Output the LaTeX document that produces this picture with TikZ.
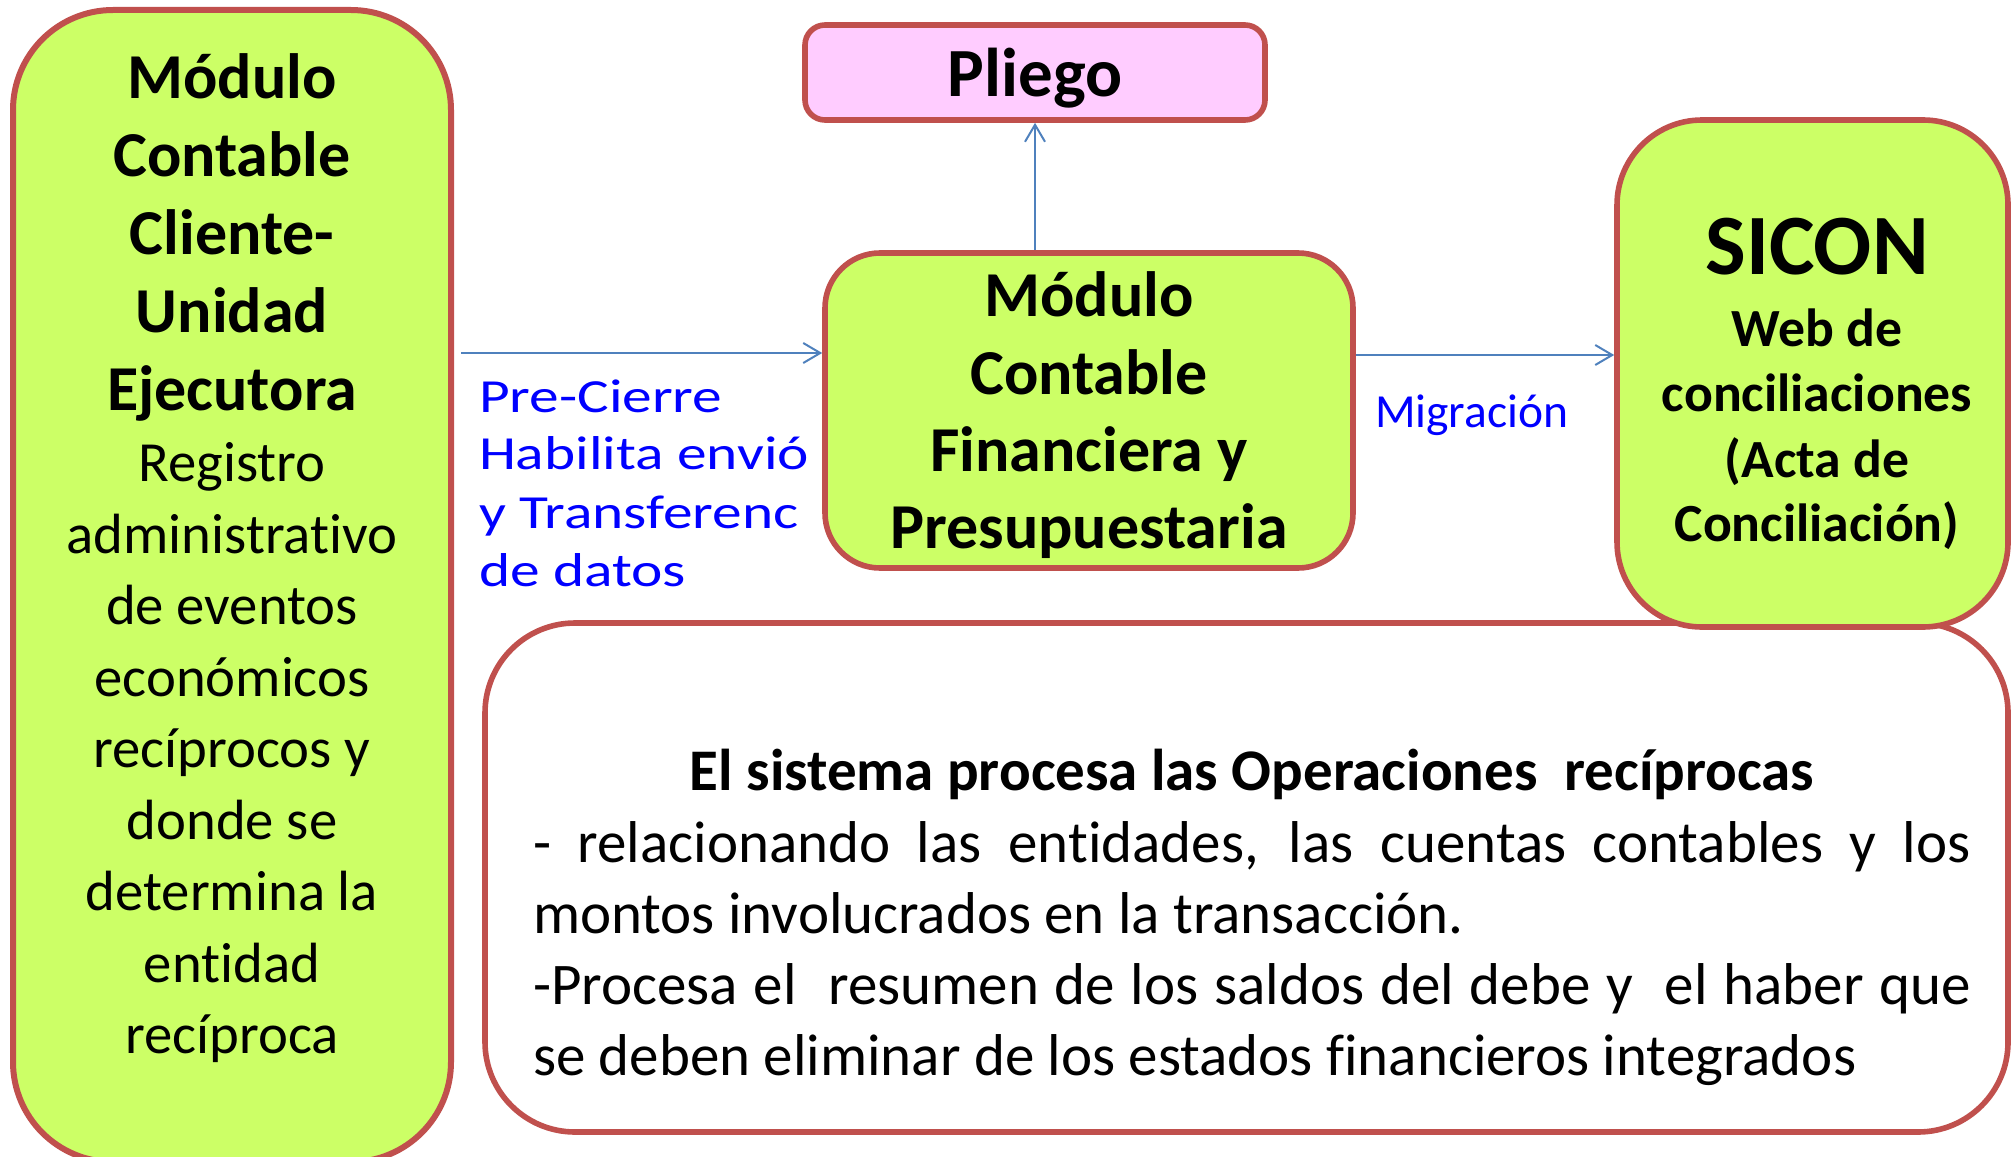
\documentclass[tikz,border=0pt]{standalone}
\usepackage{fontspec}
\setmainfont[Ligatures={NoCommon}]{Carlito}
\newfontfamily\widefont[FakeStretch=1.25,Ligatures={NoCommon}]{Carlito}
\usetikzlibrary{arrows.meta,calc}
\definecolor{bord}{HTML}{C0504D}
\definecolor{lime}{HTML}{CCFF66}
\definecolor{pinkf}{HTML}{FFCCFF}
\definecolor{arrc}{HTML}{4F81BD}
\definecolor{lblue}{HTML}{0000FF}
\tikzset{
  boxg/.style={draw=bord, line width=2.8pt, fill=lime, rounded corners=#1, inner sep=0pt},
  boxw/.style={draw=bord, line width=2.8pt, fill=white, rounded corners=#1, inner sep=0pt},
  txt/.style={inner sep=0pt, outer sep=0pt},
  arr/.style={draw=arrc, line width=1pt, -{Straight Barb[length=8.5pt,width=10pt]}},
  bluelbl/.style={txt, text=lblue, font=\widefont\fontsize{23.75pt}{29pt}\selectfont},
}
\begin{document}
\begin{tikzpicture}[x=0.5pt,y=-0.5pt]
\useasboundingbox (0,0) rectangle (2011,1156);
% boxes
\node[boxw=45pt, minimum width=761.5pt, minimum height=254.5pt] (bbox) at (1246.5,877.5) {};
\node[boxg=42.5pt, minimum width=195.5pt, minimum height=253.5pt] (sicon) at (1812.5,373.5) {};
\node[boxg=50pt, line width=3pt, minimum width=219pt, minimum height=576pt] (lbox) at (232,586) {};
\node[boxg=27.5pt, minimum width=264pt, minimum height=157.5pt] (mbox) at (1089,410.5) {};
\node[draw=bord, line width=2.8pt, fill=pinkf, rounded corners=10pt, inner sep=0pt,
      minimum width=230pt, minimum height=47.5pt] (pl) at (1035,72.5) {};
% coordinates for connectors
\coordinate (ay) at (0,353);
\coordinate (by) at (0,355);
% connectors
\draw[arr] ($(lbox.east |- ay)+(7,0)$) -- (mbox.west |- ay);
\draw[arr] (mbox.east |- by) -- (sicon.west |- by);
\draw[arr] (mbox.north -| pl.south) -- (pl.south);
% Pliego text
\node[txt, anchor=base, font=\bfseries\fontsize{34.5pt}{41pt}\selectfont] (pltext) at (1035,97) {Pliego};
% middle box text
\foreach \t/\y [count=\i] in {{Módulo}/316, {Contable}/394, {Financiera y}/471, {Presupuestaria}/548}
  \node[txt, anchor=base, font=\bfseries\fontsize{32pt}{39pt}\selectfont] (m\i) at (1089,\y) {\t};
% left box text
\foreach \t/\y [count=\i] in {{Módulo}/98, {Contable}/176, {Cliente-}/254, {Unidad}/332, {Ejecutora}/410}
  \node[txt, anchor=base, font=\bfseries\fontsize{32pt}{39pt}\selectfont] (lb\i) at (232,\y) {\t};
\foreach \t/\y [count=\i] in {{Registro}/481, {administrativo}/553, {de eventos}/624, {económicos}/696, {recíprocos y}/767, {donde se}/839, {determina la}/910, {entidad}/982, {recíproca}/1053}
  \node[txt, anchor=base, font=\fontsize{28.35pt}{35pt}\selectfont] (lr\i) at (232,\y) {\t};
% SICON text
\node[txt, anchor=base, font=\bfseries\fontsize{43pt}{50pt}\selectfont] (s0) at (1817,274) {SICON};
\foreach \t/\y [count=\i] in {{Web de}/346, {conciliaciones}/411, {(Acta de}/477, {Conciliación)}/541}
  \node[txt, anchor=base, font=\bfseries\fontsize{26.85pt}{32pt}\selectfont] (s\i) at (1817,\y) {\t};
% blue labels
\foreach \t/\y [count=\i] in {{Pre-Cierre}/412, {Habilita envió}/469, {y Transferenc}/528, {de datos}/586}
  \node[bluelbl, anchor=base west] (bl\i) at (479,\y) {\t};
\node[txt, anchor=base west, text=lblue, font=\fontsize{23.75pt}{29pt}\selectfont] (mig) at (1375,427) {Migración};
% bottom box text
\node[txt, anchor=base, font=\bfseries\fontsize{29.5pt}{36pt}\selectfont] (head) at (1252,790)
  {El sistema procesa las Operaciones\ \ recíprocas};
\node[txt, anchor=base west, font=\fontsize{29.5pt}{36pt}\selectfont] (p1) at (533,862)
  {\makebox[719pt][s]{- relacionando las entidades, las cuentas contables y los}};
\node[txt, anchor=base west, font=\fontsize{29.5pt}{36pt}\selectfont] (p2) at (533,933)
  {montos involucrados en la transacción.};
\node[txt, anchor=base west, font=\fontsize{29.5pt}{36pt}\selectfont] (p3) at (533,1004)
  {\makebox[719pt][s]{-Procesa el\ \ resumen de los saldos del debe y\ \ el haber que}};
\node[txt, anchor=base west, font=\fontsize{29.5pt}{36pt}\selectfont] (p4) at (533,1075)
  {se deben eliminar de los estados financieros integrados};
\end{tikzpicture}
\end{document}
